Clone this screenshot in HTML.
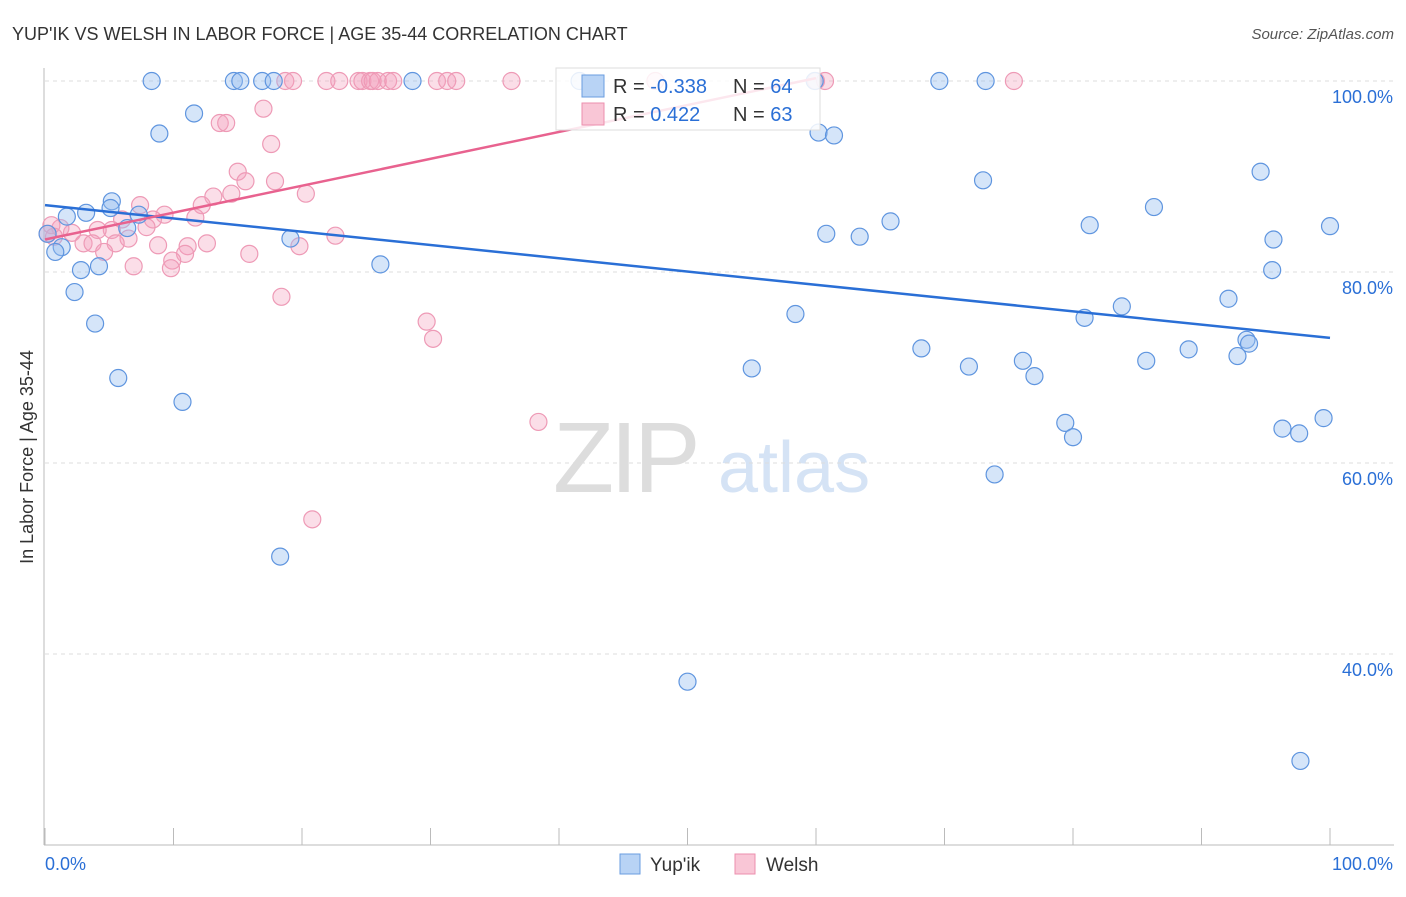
<!DOCTYPE html>
<html><head><meta charset="utf-8"><style>
body{margin:0;background:#fff;font-family:"Liberation Sans",sans-serif}
svg text{font-family:"Liberation Sans",sans-serif}
</style></head><body>
<svg width="1406" height="892">
<text x="12" y="40" font-size="18" fill="#333">YUP'IK VS WELSH IN LABOR FORCE | AGE 35-44 CORRELATION CHART</text>
<text x="1394" y="39" font-size="15" fill="#555" text-anchor="end" font-style="italic">Source: ZipAtlas.com</text>
<g>
<text x="553" y="492" font-size="100" fill="#ddd" font-family="Liberation Serif" letter-spacing="-4">ZIP</text>
<text x="718" y="492" font-size="72" fill="#d5e3f5">atlas</text></g>
<g id="grid"></g><g id="axes"></g><g id="pts"></g><g id="lines"></g>
<text transform="translate(33,457) rotate(-90)" font-size="18" fill="#333" text-anchor="middle">In Labor Force | Age 35-44</text>
<g>
<rect x="556" y="68" width="264" height="62" fill="#fff" fill-opacity="0.85" stroke="#ddd"/>
<rect x="582" y="75" width="22" height="22" fill="#b8d3f5" stroke="#6a9de0"/>
<rect x="582" y="103" width="22" height="22" fill="#f9c6d6" stroke="#ec8fae"/>
<text x="613" y="93" font-size="20" fill="#333">R = <tspan fill="#2a6fd6">-0.338</tspan></text>
<text x="733" y="93" font-size="20" fill="#333">N = <tspan fill="#2a6fd6">64</tspan></text>
<text x="613" y="121" font-size="20" fill="#333">R = <tspan fill="#2a6fd6"> 0.422</tspan></text>
<text x="733" y="121" font-size="20" fill="#333">N = <tspan fill="#2a6fd6">63</tspan></text>
</g>
<g>
<rect x="620" y="854" width="20" height="20" fill="#b8d3f5" stroke="#6a9de0"/>
<text x="650" y="871" font-size="19" fill="#333">Yup'ik</text>
<rect x="735" y="854" width="20" height="20" fill="#f9c6d6" stroke="#ec8fae"/>
<text x="766" y="871" font-size="19" fill="#333">Welsh</text>
</g>
</svg>
<script>
const yTicks=[40,60,80,100];
const xTickLabels=["0.0%","100.0%"];
const blueX=[8.3,14.7,15.2,16.9,17.8,28.6,41.6,59.9,69.6,73.2,8.9,11.6,5.2,5.1,3.2,1.7,7.3,6.4,0.2,1.3,0.8,2.8,4.2,2.3,3.9,5.7,10.7,19.1,26.1,18.3,50.0,58.4,55.0,60.2,61.4,60.8,63.4,65.8,68.2,71.9,73.0,73.9,76.1,77.0,79.4,80.0,80.9,81.3,83.8,85.7,86.3,89.0,92.1,92.8,93.5,93.7,94.6,95.5,95.6,96.3,97.6,99.5,100,97.7];
const blueY=[100,100,100,100,100,100,100,100,100,100,94.5,96.6,87.4,86.7,86.2,85.8,86.0,84.6,84.0,82.6,82.1,80.2,80.6,77.9,74.6,68.9,66.4,83.5,80.8,50.2,37.1,75.6,69.9,94.6,94.3,84.0,83.7,85.3,72.0,70.1,89.6,58.8,70.7,69.1,64.2,62.7,75.2,84.9,76.4,70.7,86.8,71.9,77.2,71.2,72.9,72.5,90.5,80.2,83.4,63.6,63.1,64.7,84.8,28.8];
const pinkX=[18.7,19.3,21.9,22.9,24.4,24.7,25.3,25.5,25.9,26.7,27.1,30.5,31.3,32.0,36.3,47.5,60.0,60.7,75.4,17.0,13.6,14.1,17.6,15.0,15.6,17.9,20.3,14.5,13.1,12.2,7.4,11.7,9.3,8.4,6.0,7.9,5.2,4.1,2.1,1.2,0.5,0.7,6.5,22.6,5.5,3.0,3.7,11.1,8.8,12.6,19.8,4.6,10.9,9.9,15.9,6.9,9.8,18.4,29.7,30.2,38.4,20.8,0.2];
const pinkY=[100,100,100,100,100,100,100,100,100,100,100,100,100,100,100,100,100,100,100,97.1,95.6,95.6,93.4,90.5,89.5,89.5,88.2,88.2,87.9,87.0,87.0,85.7,86.0,85.5,85.5,84.7,84.4,84.4,84.1,84.6,84.9,83.7,83.5,83.8,83.0,83.0,83.0,82.7,82.8,83.0,82.7,82.1,81.9,81.2,81.9,80.6,80.4,77.4,74.8,73.0,64.3,54.1,84.0];
const blueLine=[[0,87.0],[100,73.1]];
const pinkLine=[[0,83.4],[60,100.3]];
const X=v=>45+v*12.85, Y=v=>81+(100-v)*9.55;
const NS="http://www.w3.org/2000/svg";
function mk(t,a,p){const e=document.createElementNS(NS,t);for(const k in a)e.setAttribute(k,a[k]);document.getElementById(p).appendChild(e);return e;}
yTicks.forEach(t=>{
 const l=mk("line",{x1:45,x2:1394,y1:Y(t),y2:Y(t),stroke:"#ddd","stroke-dasharray":"4,4"},"grid");
 
 
 const tx=mk("text",{x:1393,y:Y(t)+22,"font-size":18,fill:"#2a6fd6","text-anchor":"end"},"grid");
 tx.textContent=t.toFixed(1)+"%";
 
 
});
mk("line",{x1:44,x2:44,y1:68,y2:845,stroke:"#bbb"},"axes");
mk("line",{x1:44,x2:1394,y1:845,y2:845,stroke:"#bbb"},"axes");
for(let i=0;i<=10;i++){const t=mk("line",{x1:X(i*10),x2:X(i*10),y1:828,y2:845,stroke:"#bbb"},"axes");
 
 }
const a=mk("text",{x:45,y:870,"font-size":18,fill:"#2a6fd6"},"axes");a.textContent=xTickLabels[0];


const b=mk("text",{x:1393,y:870,"font-size":18,fill:"#2a6fd6","text-anchor":"end"},"axes");b.textContent=xTickLabels[1];


pinkX.forEach((x,i)=>{const c=mk("circle",{cx:X(x),cy:Y(pinkY[i]),r:8.5,fill:"rgba(244,160,188,0.35)",stroke:"#ee9ab6","stroke-width":1.2},"pts");
 
 });
blueX.forEach((x,i)=>{const c=mk("circle",{cx:X(x),cy:Y(blueY[i]),r:8.5,fill:"rgba(150,190,240,0.4)",stroke:"#5f95df","stroke-width":1.2},"pts");
 
 });
const bl=mk("line",{x1:X(blueLine[0][0]),y1:Y(blueLine[0][1]),x2:X(blueLine[1][0]),y2:Y(blueLine[1][1]),stroke:"#2a6fd6","stroke-width":2.5},"lines");


const pl=mk("line",{x1:X(pinkLine[0][0]),y1:Y(pinkLine[0][1]),x2:X(pinkLine[1][0]),y2:Y(pinkLine[1][1]),stroke:"#e8628f","stroke-width":2.5},"lines");


</script>
</body></html>
